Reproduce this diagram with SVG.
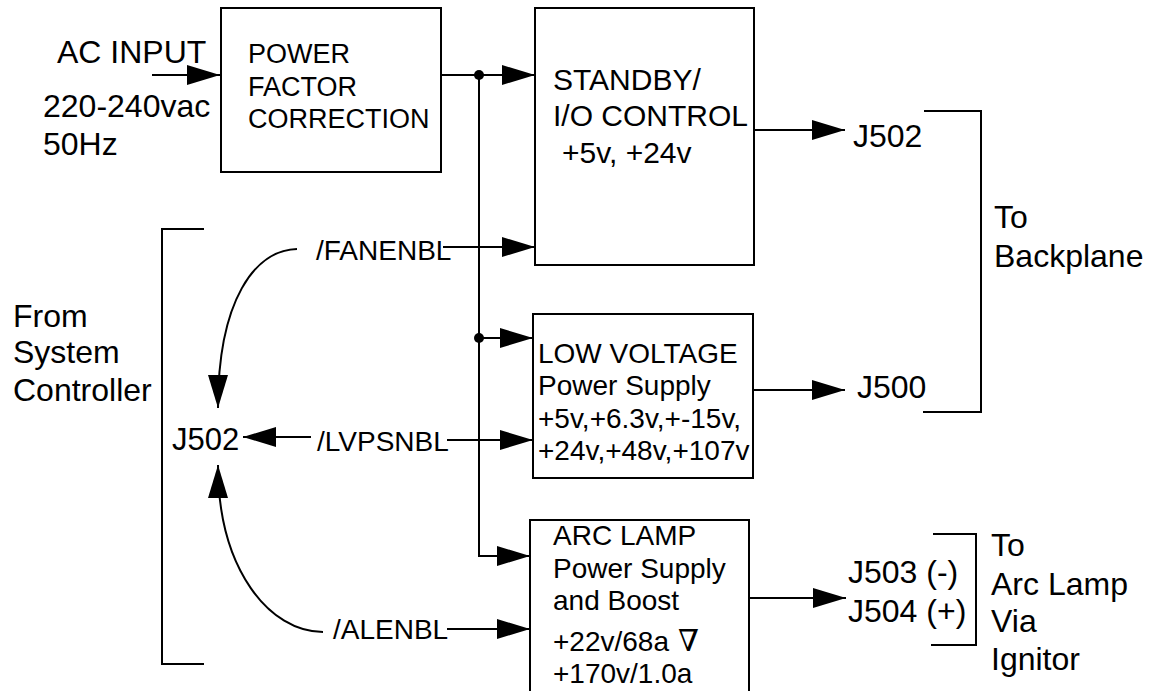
<svg xmlns="http://www.w3.org/2000/svg" width="1155" height="691" viewBox="0 0 1155 691">
<style>
.t{font-family:"Liberation Sans",Arial,sans-serif;fill:#000}
.s32{font-size:32px}.s30{font-size:30px}.s28{font-size:28px}.s27{font-size:27px}.s31{font-size:31px}
.box{fill:none;stroke:#000;stroke-width:2}
.ln{fill:none;stroke:#000;stroke-width:2}
.ar{marker-end:url(#ah)}
</style>
<defs>
<marker id="ah" viewBox="0 0 33 20" refX="33" refY="10" markerWidth="33" markerHeight="20" markerUnits="userSpaceOnUse" orient="auto">
<path d="M0,0 L33,10 L0,20 z" fill="#000"/>
</marker>
</defs>
<rect width="1155" height="691" fill="#fff"/>

<g id="ac-input">
<text class="t s32" x="57" y="63">AC INPUT</text>
<text class="t s32" x="43" y="117">220-240vac</text>
<text class="t s32" x="43" y="155">50Hz</text>
</g>

<g id="pfc">
<rect class="box" x="221" y="8" width="220" height="164"/>
<text class="t s27" x="248" y="63">POWER</text>
<text class="t s27" x="248" y="96">FACTOR</text>
<text class="t s27" x="248" y="128">CORRECTION</text>
</g>

<g id="standby">
<rect class="box" x="535" y="8" width="219" height="257"/>
<text class="t s30" x="553" y="90">STANDBY/</text>
<text class="t s30" x="553" y="126">I/O CONTROL</text>
<text class="t s30" x="562" y="163">+5v, +24v</text>
</g>

<g id="lvps">
<rect class="box" x="533" y="314" width="220" height="164"/>
<text class="t s28" x="538" y="363">LOW VOLTAGE</text>
<text class="t s28" x="538" y="395">Power Supply</text>
<text class="t s28" x="538" y="428">+5v,+6.3v,+-15v,</text>
<text class="t s28" x="538" y="460">+24v,+48v,+107v</text>
</g>

<g id="arclamp">
<rect class="box" x="530" y="520" width="219" height="185"/>
<text class="t s28" x="553" y="545">ARC LAMP</text>
<text class="t s28" x="553" y="578">Power Supply</text>
<text class="t s28" x="553" y="610">and Boost</text>
<text class="t s28" x="553" y="651">+22v/68a</text>
<text x="678" y="651" style="font-family:'DejaVu Serif','Liberation Serif',serif;font-size:30px">∇</text>
<text class="t s28" x="553" y="683">+170v/1.0a</text>
</g>

<g id="system-controller">
<path class="ln" d="M204,229 H162 V664 H204"/>
<text class="t s32" x="13" y="327">From</text>
<text class="t s32" x="13" y="363">System</text>
<text class="t s32" x="13" y="401">Controller</text>
<text class="t s31" x="172" y="450">J502</text>
<text class="t s28" x="316" y="260">/FANENBL</text>
<text class="t s28" x="317" y="451">/LVPSNBL</text>
<text class="t s28" x="333" y="639">/ALENBL</text>
</g>

<g id="backplane">
<path class="ln" d="M924,111 H981 V412 H923"/>
<text class="t s32" x="853" y="147">J502</text>
<text class="t s32" x="857" y="398">J500</text>
<text class="t s32" x="994" y="228">To</text>
<text class="t s32" x="994" y="267">Backplane</text>
</g>

<g id="arc-output">
<path class="ln" d="M933,534 H976 V645 H931"/>
<text class="t s32" x="848" y="583">J503 (-)</text>
<text class="t s32" x="848" y="622">J504 (+)</text>
<text class="t s32" x="991" y="556">To</text>
<text class="t s32" x="991" y="595">Arc Lamp</text>
<text class="t s32" x="991" y="632">Via</text>
<text class="t s32" x="991" y="670">Ignitor</text>
</g>

<g id="connectors">
<path class="ln ar" d="M152,75 H220"/>
<path class="ln ar" d="M441,75 H535"/>
<circle cx="479" cy="75" r="5" fill="#000"/>
<path class="ln ar" d="M479,75 V556 H530"/>
<circle cx="479" cy="338" r="5" fill="#000"/>
<path class="ln ar" d="M479,338 H533"/>
<path class="ln ar" d="M443,247 H535"/>
<path class="ln ar" d="M447,440 H533"/>
<path class="ln ar" d="M447,629 H530"/>
<path class="ln ar" d="M754,130 H845"/>
<path class="ln ar" d="M753,390 H845"/>
<path class="ln ar" d="M749,598 H846"/>
<path class="ln ar" d="M311,437 H243"/>
<path class="ln ar" d="M297,249 C255,250 218,300 218,408"/>
<path class="ln ar" d="M323,632 C270,632 218,570 218,465"/>
</g>
</svg>
